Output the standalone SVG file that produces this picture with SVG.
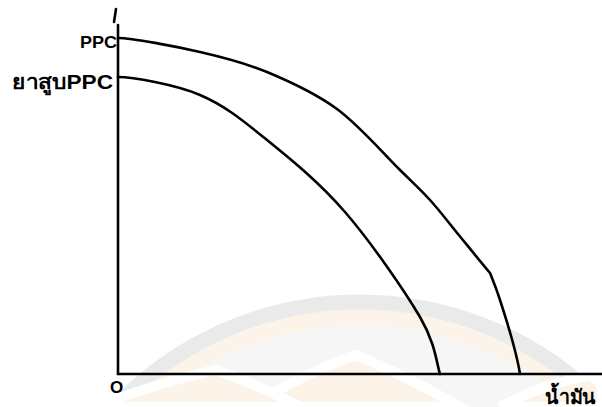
<svg xmlns="http://www.w3.org/2000/svg" width="602" height="407" viewBox="0 0 602 407">
<style>
.ink{fill:none;stroke:#000;stroke-width:2.6;stroke-linecap:round;stroke-linejoin:round}
.lbl{font-family:"Liberation Sans","Noto Sans",sans-serif;fill:#000;font-weight:bold}
.wm{fill:none}
</style>
<rect width="602" height="407" fill="#fff"/>
<g id="watermark" opacity="0.75">
<circle cx="360" cy="640" r="318" fill="#f4f4f4"/>
<circle class="wm" cx="360" cy="640" r="323" stroke="#fcefe2" stroke-width="16"/>
<circle class="wm" cx="360" cy="640" r="338" stroke="#e4e4e4" stroke-width="15"/>
<path d="M250 407 Q300 375 355 355 Q405 375 460 407 Z" fill="#fcefe2" stroke="#fff" stroke-width="10"/>
<path d="M95 407 Q150 385 215 370 Q260 385 300 407 Z" fill="#fcefe2" stroke="#fff" stroke-width="10"/>
<path d="M500 407 Q540 385 590 375 L602 385 L602 407 Z" fill="#fcefe2" stroke="#fff" stroke-width="10"/>
</g>
<g id="connectors">
<path id="y-axis" class="ink" d="M118 25 L118 374"/>
<path id="tick" class="ink" d="M116 9 L114 22"/>
<path id="x-axis" class="ink" d="M118 374 L602 374"/>
</g>
<g id="ppc-outer">
<path class="ink" d="M118 38 C132 38 175.2 46.3 200 52 C224.8 57.7 244.2 62.5 267 72 C289.8 81.5 314.8 92.7 337 109 C359.2 125.3 384.5 154.8 400 170 C415.5 185.2 420.3 189.3 430 200 C439.7 210.7 448 221.8 458 234 C468 246.2 479 260 490 273 C494 283 496.2 288.3 500 300 C503.8 311.7 509.7 330.7 513 343 C516.3 355.3 518.8 366 520 374"/>
</g>
<g id="ppc-inner">
<path class="ink" d="M118 77 C132 77 175.2 84.5 200 95 C224.8 105.5 242.8 120.5 267 140 C291.2 159.5 319.5 182.5 345 212 C370.5 241.5 404.2 290 420 317 C435.8 344 436.7 364.5 440 374"/>
</g>
<g id="labels">
<text class="lbl" x="80" y="48" font-size="17" textLength="37" lengthAdjust="spacingAndGlyphs">PPC</text>
<text class="lbl" x="12" y="89" font-size="20" textLength="101" lengthAdjust="spacingAndGlyphs">ยาสูบPPC</text>
<text class="lbl" x="110" y="393" font-size="17">O</text>
<text class="lbl" x="545" y="404" font-size="20" textLength="51" lengthAdjust="spacingAndGlyphs">น้ำมัน</text>
</g>
</svg>
